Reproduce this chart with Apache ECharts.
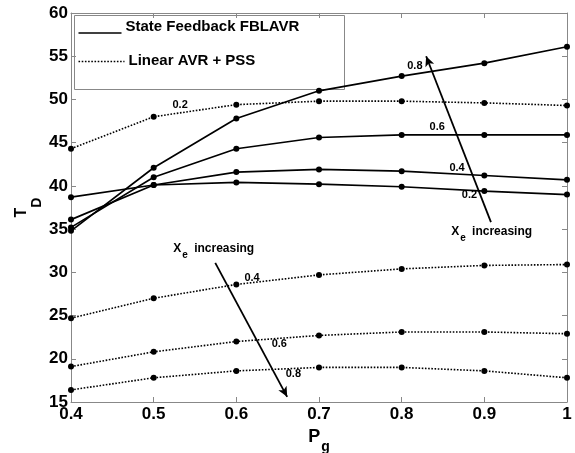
<!DOCTYPE html>
<html><head><meta charset="utf-8">
<script src="https://cdn.jsdelivr.net/npm/echarts@6/dist/echarts.min.js"></script>
<style>html,body{margin:0;padding:0;background:#fff}#c{width:575px;height:453px}</style>
</head><body><div id="c"></div>
<script>
const pg = [0.4, 0.5, 0.6, 0.7, 0.8, 0.9, 1.0];
// State Feedback FBLAVR, by Xe
const sf02 = [38.7, 40.1, 40.4, 40.2, 39.9, 39.4, 39.0];
const sf04 = [36.1, 40.1, 41.6, 41.9, 41.7, 41.2, 40.7];
const sf06 = [35.2, 41.0, 44.3, 45.6, 45.9, 45.9, 45.9];
const sf08 = [34.8, 42.1, 47.8, 51.0, 52.7, 54.2, 56.1];
// Linear AVR + PSS, by Xe
const lp02 = [44.3, 48.0, 49.4, 49.8, 49.8, 49.6, 49.3];
const lp04 = [24.7, 27.0, 28.6, 29.7, 30.4, 30.8, 30.9];
const lp06 = [19.1, 20.8, 22.0, 22.7, 23.1, 23.1, 22.9];
const lp08 = [16.4, 17.8, 18.6, 19.0, 19.0, 18.6, 17.8];
const xTicks = [0.4, 0.5, 0.6, 0.7, 0.8, 0.9, 1];
const yTicks = [15, 20, 25, 30, 35, 40, 45, 50, 55, 60];
// curve labels [x, y, text]
const curveLabels = [
  [0.532, 49.35, '0.2'], [0.816, 53.87, '0.8'], [0.843, 46.8, '0.6'],
  [0.867, 42.06, '0.4'], [0.882, 38.93, '0.2'],
  [0.619, 29.33, '0.4'], [0.652, 21.77, '0.6'], [0.669, 18.3, '0.8']
];
// arrows [[x0,y0],[x1,y1]]
const arrows = [
  [[0.908, 35.8], [0.8296, 55.0]],
  [[0.5745, 31.1], [0.6615, 15.6]]
];
const arrowTexts = [[0.8599, 34.4], [0.5237, 32.4]];

const F = '"Liberation Sans", Arial, sans-serif';
function mk(data, dotted) {
  return {
    type: 'line', data: pg.map((x, i) => [x, data[i]]),
    symbol: 'circle', symbolSize: 6, showSymbol: true,
    itemStyle: { color: '#000' },
    lineStyle: { color: '#000', width: dotted ? 1.6 : 1.7, type: dotted ? [1.6, 1.6] : 'solid' },
    silent: true, animation: false, z: 3
  };
}
const series = [mk(sf02), mk(sf04), mk(sf06), mk(sf08), mk(lp02, true), mk(lp04, true), mk(lp06, true), mk(lp08, true)];
series.push({
  type: 'scatter', data: [], silent: true, animation: false,
  markPoint: {
    symbol: 'circle', symbolSize: 0, animation: false,
    label: { show: true, color: '#000', fontFamily: F, fontWeight: 'bold', fontSize: 11, formatter: p => p.name },
    data: curveLabels.map(c => ({ name: c[2], coord: [c[0], c[1]] }))
  },
  markLine: {
    symbol: ['none', 'arrow'], symbolSize: [7, 10], animation: false, silent: true,
    lineStyle: { color: '#000', width: 1.8, type: 'solid' }, label: { show: false },
    data: arrows.map(a => [{ coord: a[0] }, { coord: a[1] }])
  }
});
series.push({
  type: 'scatter', data: [], silent: true, animation: false,
  markPoint: {
    symbol: 'circle', symbolSize: 0, animation: false,
    label: {
      show: true, position: 'right', distance: 0, color: '#000',
      formatter: '{x|X}{s|e}{w| increasing}',
      rich: {
        x: { fontFamily: F, fontWeight: 'bold', fontSize: 12, lineHeight: 12, verticalAlign: 'top', color: '#000' },
        s: { fontFamily: F, fontWeight: 'bold', fontSize: 10, lineHeight: 17, verticalAlign: 'bottom', padding: [0, 3, 0, 1], color: '#000' },
        w: { fontFamily: F, fontWeight: 'bold', fontSize: 12, lineHeight: 12, verticalAlign: 'top', color: '#000' }
      }
    },
    data: arrowTexts.map(t => ({ name: 'x', coord: t }))
  }
});

const tickLab = { color: '#000', fontFamily: F, fontWeight: 'bold', fontSize: 17 };
const axLine = { show: true, lineStyle: { color: '#888', width: 1 } };
const tick = { show: true, inside: true, length: 5, lineStyle: { color: '#888' } };
const chart = echarts.init(document.getElementById('c'), null, { renderer: 'canvas' });
chart.setOption({
  animation: false,
  grid: { left: 71, right: 8, top: 13, bottom: 51, containLabel: false, outerBoundsMode: 'none' },
  xAxis: [{
    type: 'value', min: 0.4, max: 1, interval: 0.1, position: 'bottom',
    axisLine: axLine, axisTick: tick, splitLine: { show: false },
    axisLabel: Object.assign({ margin: 4, formatter: v => String(+v.toFixed(1)) }, tickLab),
    name: '{p|P}{g|g}', nameLocation: 'middle', nameGap: 10,
    nameTextStyle: { rich: {
      p: { fontFamily: F, fontWeight: 'bold', fontSize: 18, lineHeight: 18, verticalAlign: 'top', color: '#000' },
      g: { fontFamily: F, fontWeight: 'bold', fontSize: 14, lineHeight: 26, verticalAlign: 'bottom', padding: [0, 0, 0, 1], color: '#000' } } }
  }, {
    type: 'value', min: 0.4, max: 1, interval: 0.1, position: 'top',
    axisLine: axLine, axisTick: tick, splitLine: { show: false }, axisLabel: { show: false }
  }],
  yAxis: [{
    type: 'value', min: 15, max: 60, interval: 5, position: 'left',
    axisLine: axLine, axisTick: tick, splitLine: { show: false },
    axisLabel: Object.assign({ margin: 3 }, tickLab),
    name: '{t|T}{d|D}', nameLocation: 'middle', nameGap: 27, nameRotate: 90, nameMoveOverlap: false,
    nameTextStyle: { rich: {
      t: { fontFamily: F, fontWeight: 'bold', fontSize: 16, lineHeight: 16, verticalAlign: 'top', color: '#000' },
      d: { fontFamily: F, fontWeight: 'bold', fontSize: 14, lineHeight: 30, verticalAlign: 'bottom', color: '#000' } } }
  }, {
    type: 'value', min: 15, max: 60, interval: 5, position: 'right',
    axisLine: axLine, axisTick: tick, splitLine: { show: false }, axisLabel: { show: false }
  }],
  graphic: [{
    type: 'group', left: 74, top: 15, children: [
      { type: 'rect', shape: { x: 0, y: 0, width: 270, height: 74 }, style: { fill: '#fff', stroke: '#888', lineWidth: 1 } },
      { type: 'line', shape: { x1: 4, y1: 17.5, x2: 47, y2: 17.5 }, style: { stroke: '#000', lineWidth: 1.3 } },
      { type: 'text', x: 51, y: 11, style: { text: 'State Feedback FBLAVR', fill: '#000', verticalAlign: 'middle', font: 'bold 15px "Liberation Sans", Arial, sans-serif' } },
      { type: 'line', shape: { x1: 4, y1: 46, x2: 50, y2: 46 }, style: { stroke: '#000', lineWidth: 1.6, lineDash: [1.6, 1.6] } },
      { type: 'text', x: 54, y: 45, style: { text: 'Linear AVR + PSS', fill: '#000', verticalAlign: 'middle', font: 'bold 15px "Liberation Sans", Arial, sans-serif' } }
    ]
  }],
  series: series
});
</script></body></html>
